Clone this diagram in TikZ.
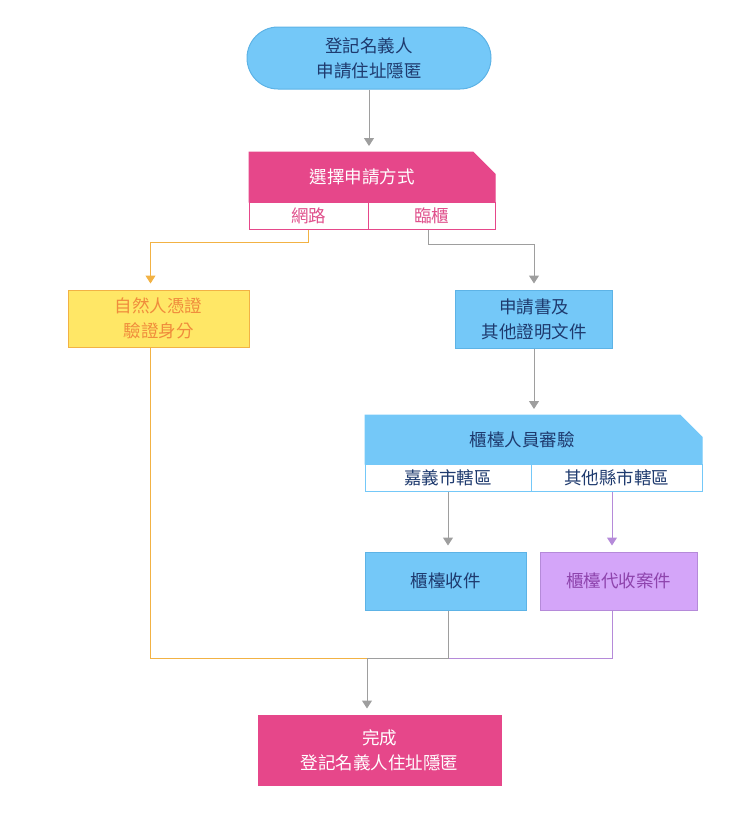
\documentclass[tikz,border=0pt]{standalone}
\usepackage{fontspec}
\setmainfont{Noto Sans CJK TC}
\usetikzlibrary{arrows.meta}
\definecolor{celeste}{HTML}{74C8F8}
\definecolor{celesteborde}{HTML}{5DB3E6}
\definecolor{azul}{HTML}{1E3A6E}
\definecolor{rosa}{HTML}{E6478A}
\definecolor{rosatexto}{HTML}{E0508C}
\definecolor{amarillo}{HTML}{FFE766}
\definecolor{naranja}{HTML}{F2B244}
\definecolor{naranjatexto}{HTML}{F08C3C}
\definecolor{lila}{HTML}{D4A5F9}
\definecolor{lilaborde}{HTML}{B58AD9}
\definecolor{lilatexto}{HTML}{8E44AD}
\definecolor{gris}{HTML}{9E9E9E}
\begin{document}
\begin{tikzpicture}[x=1pt, y=-1pt, line width=1pt, font=\fontsize{17.5}{25}\selectfont,
  caja/.style={draw, rectangle, align=center, inner sep=0pt},
  celda/.style={caja, fill=white, minimum height=27pt},
  flecha/.style={-{Triangle[width=10pt,length=8pt]}, shorten >=6pt}]
  \useasboundingbox (0,0) rectangle (740,817);
  % inicio
  \node[caja, rounded corners=31pt, fill=celeste, draw=celesteborde, text=azul,
    minimum width=244pt, minimum height=62pt] (inicio) at (369,58) {登記名義人\\申請住址隱匿};
  % elegir el modo
  \filldraw[fill=rosa, draw=rosa] (249,152) -- (473,152) -- (495,174) -- (495,202) -- (249,202) -- cycle;
  \coordinate (modoarriba) at (369,152);
  \node[text=white] (modo) at (362,177) {選擇申請方式};
  \node[celda, draw=rosa, text=rosatexto, minimum width=119pt] (red) at (308.5,215.5) {網路};
  \node[celda, draw=rosa, text=rosatexto, minimum width=127pt] (lin) at (431.5,215.5) {臨櫃};
  % por la red
  \node[caja, fill=amarillo, draw=naranja, text=naranjatexto,
    minimum width=181pt, minimum height=57pt] (cert) at (158.5,318.5) {自然人憑證\\驗證身分};
  % en ventanilla
  \node[caja, fill=celeste, draw=celesteborde, text=azul,
    minimum width=157pt, minimum height=58pt] (docs) at (534,319) {申請書及\\其他證明文件};
  \filldraw[fill=celeste, draw=celeste] (365,415) -- (680,415) -- (702,437) -- (702,464) -- (365,464) -- cycle;
  \coordinate (revisaarriba) at (534,415);
  \node[text=azul] (revisa) at (522,440) {櫃檯人員審驗};
  \node[celda, draw=celeste, text=azul, minimum width=166pt] (chiayi) at (448,478) {嘉義市轄區};
  \node[celda, draw=celeste, text=azul, minimum width=171pt] (otros) at (616.5,478) {其他縣市轄區};
  \node[caja, fill=celeste, draw=celesteborde, text=azul,
    minimum width=161pt, minimum height=58pt] (recibe) at (445.5,581) {櫃檯收件};
  \node[caja, fill=lila, draw=lilaborde, text=lilatexto,
    minimum width=157pt, minimum height=58pt] (agente) at (618.5,581) {櫃檯代收案件};
  % fin
  \node[caja, fill=rosa, draw=rosa, text=white,
    minimum width=243pt, minimum height=70pt] (fin) at (379.5,750) {完成\\登記名義人住址隱匿};
  \coordinate (junta) at (367,658);
  % flechas
  \draw[gris, flecha] (inicio.south) -- (modoarriba);
  \draw[naranja, flecha] (red.south) -- ++(0,13) -| ([xshift=-8pt]cert.north);
  \draw[gris, flecha] ([xshift=-3pt]lin.south) -- ++(0,15) -| (docs.north);
  \draw[gris, flecha] (docs.south) -- (revisaarriba);
  \draw[gris, flecha] (chiayi.south) -- (chiayi.south |- recibe.north);
  \draw[lilaborde, flecha] ([xshift=-4.5pt]otros.south) -- ([xshift=-6.5pt]agente.north);
  \draw[naranja] ([xshift=-8pt]cert.south) |- (junta);
  \draw[lilaborde] ([xshift=-6.5pt]agente.south) |- ([xshift=2.5pt]recibe.south |- junta);
  \draw[gris] ([xshift=2.5pt]recibe.south) |- (junta);
  \draw[gris, flecha] (junta) -- (junta |- fin.north);
\end{tikzpicture}
\end{document}
